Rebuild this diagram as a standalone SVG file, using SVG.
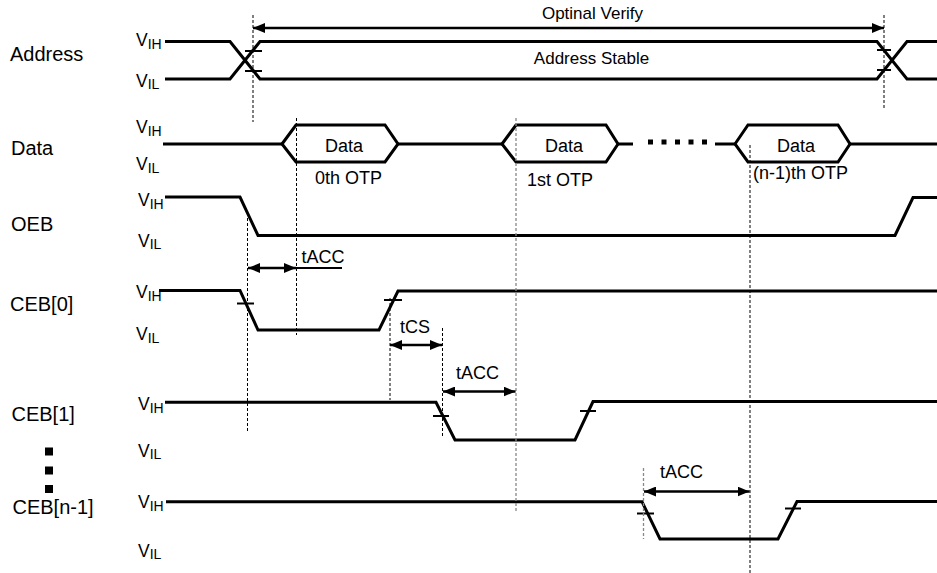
<svg xmlns="http://www.w3.org/2000/svg" width="937" height="573" viewBox="0 0 937 573">
<style>
  text { font-family: "Liberation Sans", Arial, sans-serif; fill: #000; }
  .lbl { font-size: 20px; }
  .v { font-size: 17.5px; }
  .v tspan { font-size: 14px; }
  .t { font-size: 18px; }
  .t17 { font-size: 17px; }
  .sig { fill: none; stroke: #000; stroke-width: 3; stroke-linejoin: miter; }
  .tick { stroke: #000; stroke-width: 2; }
  .dash { stroke: #000; stroke-width: 1; stroke-dasharray: 3 2; }
  .dashg { stroke: #888; stroke-width: 1.3; stroke-dasharray: 3 2; }
  .arr { stroke: #000; stroke-width: 2.5; fill: none; marker-start: url(#ah); marker-end: url(#ah); }
  .plain { stroke: #000; stroke-width: 2; }
</style>
<defs>
  <marker id="ah" markerUnits="userSpaceOnUse" markerWidth="13" markerHeight="10" refX="12" refY="5" orient="auto-start-reverse">
    <path d="M0,0 L12,5 L0,10 z" fill="#000"/>
  </marker>
</defs>

<rect width="937" height="573" fill="#fff"/>

<!-- Address -->
<g id="address">
  <text class="lbl" x="10" y="60.5">Address</text>
  <text class="v" x="136" y="46">V<tspan dy="2.5">IH</tspan></text>
  <text class="v" x="136" y="86.5">V<tspan dy="2.5">IL</tspan></text>
  <path class="sig" d="M165,41.5 H230 L260,79 H877 L907,41.5 H937"/>
  <path class="sig" d="M165,79 H230 L260,41.5 H877 L907,79 H937"/>
  <line class="tick" x1="245" y1="51" x2="262" y2="51"/>
  <line class="tick" x1="245" y1="71" x2="262" y2="71"/>
  <line class="tick" x1="877" y1="50" x2="891" y2="50"/>
  <line class="tick" x1="877" y1="70" x2="891" y2="70"/>
  <text class="t17" x="592.5" y="19" text-anchor="middle">Optinal Verify</text>
  <text class="t17" x="591.5" y="64" text-anchor="middle">Address Stable</text>
</g>

<!-- Data -->
<g id="data">
  <text class="lbl" x="11" y="155">Data</text>
  <text class="v" x="136" y="133">V<tspan dy="2.5">IH</tspan></text>
  <text class="v" x="136" y="170">V<tspan dy="2.5">IL</tspan></text>
  <path class="sig" d="M163,144 H282"/>
  <path class="sig" d="M282,144 L296,125 H385 L398,144 L385,162 H296 Z"/>
  <path class="sig" d="M398,144 H502"/>
  <path class="sig" d="M502,144 L516,125 H606 L618,144 L606,162 H516 Z"/>
  <path class="sig" d="M618,144 H633"/>
  <g fill="#000">
    <rect x="648" y="139.5" width="5" height="5"/>
    <rect x="661.5" y="139.5" width="5" height="5"/>
    <rect x="675" y="139.5" width="5" height="5"/>
    <rect x="688.5" y="139.5" width="5" height="5"/>
    <rect x="702" y="139.5" width="5" height="5"/>
  </g>
  <path class="sig" d="M715,144 H735"/>
  <path class="sig" d="M735,144 L748,125 H838 L850,144 L838,162 H748 Z"/>
  <path class="sig" d="M850,144 H937"/>
  <text class="t" x="344" y="151.5" text-anchor="middle">Data</text>
  <text class="t" x="564" y="151.5" text-anchor="middle">Data</text>
  <text class="t" x="796" y="151.5" text-anchor="middle">Data</text>
  <text class="t" x="315" y="184">0th OTP</text>
  <text class="t" x="527" y="186">1st OTP</text>
  <text class="t" x="753" y="178.5">(n-1)th OTP</text>
</g>

<!-- OEB -->
<g id="oeb">
  <text class="lbl" x="11" y="230.5">OEB</text>
  <text class="v" x="138" y="206">V<tspan dy="2.5">IH</tspan></text>
  <text class="v" x="138" y="246.5">V<tspan dy="2.5">IL</tspan></text>
  <path class="sig" d="M165,197 H240 L258,235.5 H895 L913,197.5 H937"/>
</g>

<!-- CEB[0] -->
<g id="ceb0">
  <text class="lbl" x="10" y="311">CEB[0]</text>
  <text class="v" x="136" y="298">V<tspan dy="2.5">IH</tspan></text>
  <text class="v" x="136" y="340">V<tspan dy="2.5">IL</tspan></text>
  <path class="sig" d="M159,290.5 H240 L258,330 H379 L398,291 H937"/>
  <line class="tick" x1="237" y1="303.5" x2="254" y2="303.5"/>
  <line class="tick" x1="384" y1="300" x2="402" y2="300"/>
</g>

<!-- CEB[1] -->
<g id="ceb1">
  <text class="lbl" x="11.5" y="421">CEB[1]</text>
  <text class="v" x="138" y="410">V<tspan dy="2.5">IH</tspan></text>
  <text class="v" x="138" y="456.5">V<tspan dy="2.5">IL</tspan></text>
  <path class="sig" d="M165,402.3 H436 L455,440 H575 L593,401.5 H937"/>
  <line class="tick" x1="433" y1="416" x2="449" y2="416"/>
  <line class="tick" x1="580" y1="411" x2="596" y2="411"/>
</g>

<!-- ellipsis squares -->
<g id="ellipsis" fill="#000">
  <rect x="45" y="447.5" width="8" height="8"/>
  <rect x="45" y="466.5" width="8" height="8"/>
  <rect x="45" y="485" width="8" height="8"/>
</g>

<!-- CEB[n-1] -->
<g id="cebn1">
  <text class="lbl" x="12.5" y="514">CEB[n-1]</text>
  <text class="v" x="138" y="508">V<tspan dy="2.5">IH</tspan></text>
  <text class="v" x="138" y="556.5">V<tspan dy="2.5">IL</tspan></text>
  <path class="sig" d="M166,501.7 H642 L660,539 H778 L797,501.5 H937"/>
  <line class="tick" x1="637" y1="513.5" x2="654" y2="513.5"/>
  <line class="tick" x1="785" y1="508.5" x2="801" y2="508.5"/>
</g>

<!-- connectors: guides and timing arrows -->
<g id="connectors">
  <line class="dash" x1="253" y1="15" x2="253" y2="122"/>
  <line class="dash" x1="884" y1="15" x2="884" y2="110"/>
  <line class="dash" x1="296.5" y1="118" x2="296.5" y2="335"/>
  <line class="dashg" x1="516" y1="118" x2="516" y2="512"/>
  <line class="dash" x1="750" y1="145" x2="750" y2="573"/>
  <line class="dash" x1="247.5" y1="218" x2="247.5" y2="433"/>
  <line class="dash" x1="390" y1="298" x2="390" y2="400"/>
  <line class="dash" x1="442.5" y1="328" x2="442.5" y2="438"/>
  <line class="dashg" x1="643.5" y1="468" x2="643.5" y2="539"/>

  <line class="arr" x1="253" y1="28" x2="884" y2="28"/>
  <line class="arr" x1="248" y1="268" x2="296" y2="268"/>
  <line class="plain" x1="296" y1="268" x2="342" y2="268"/>
  <text class="t" x="301.5" y="263">tACC</text>
  <line class="arr" x1="390" y1="345" x2="442" y2="345"/>
  <text class="t" x="400" y="333">tCS</text>
  <line class="arr" x1="443" y1="391.5" x2="515.5" y2="391.5"/>
  <text class="t" x="456" y="379">tACC</text>
  <line class="arr" x1="644" y1="491.5" x2="749.5" y2="491.5"/>
  <text class="t" x="660" y="478">tACC</text>
</g>
</svg>
